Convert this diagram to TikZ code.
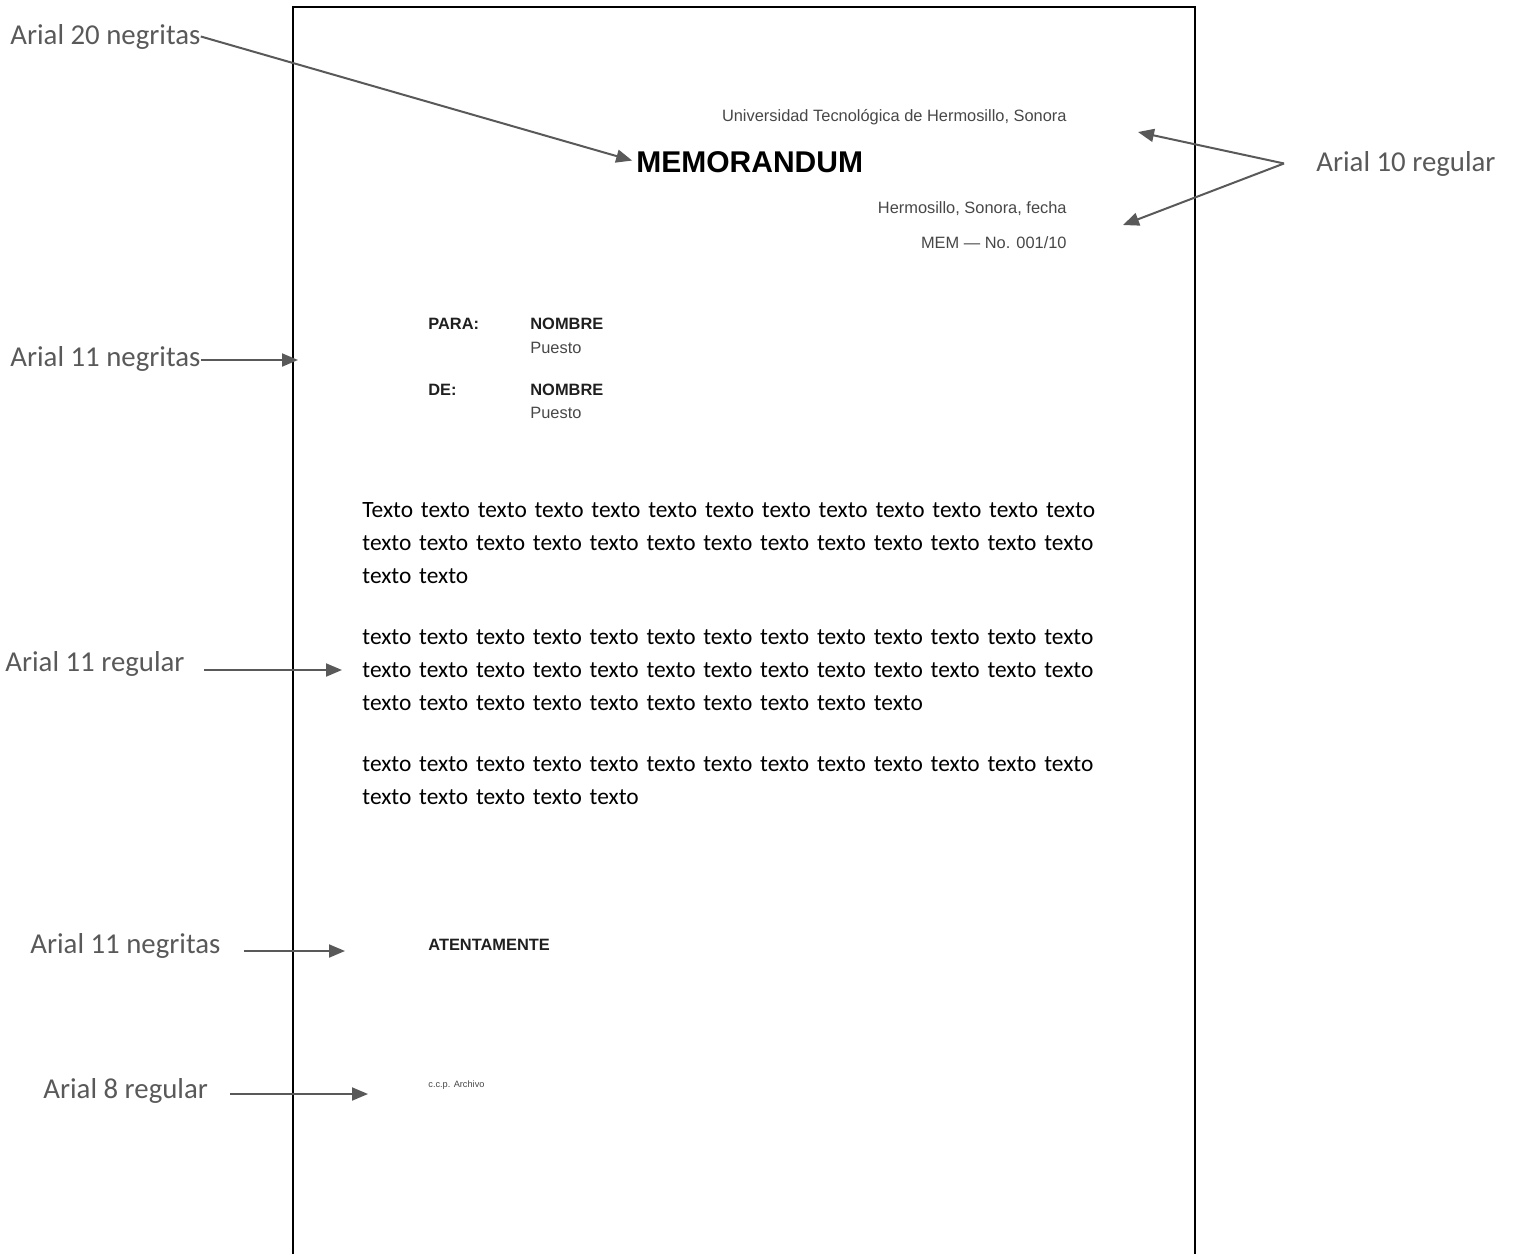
\documentclass[tikz,border=0pt]{standalone}
\usepackage{fontspec}
\setmainfont{Carlito}
\newfontfamily\arialfont[Ligatures=TeX]{Liberation Sans}
\usetikzlibrary{arrows.meta}
\definecolor{labelgray}{HTML}{595959}
\newcommand{\texto}{texto texto texto texto texto texto texto texto texto texto texto texto texto}

\begin{document}
\begin{tikzpicture}[x=0.5pt,y=-0.5pt]
		\tikzset{
			note/.style={text=labelgray,inner sep=0pt,font=\fontsize{14.4pt}{17pt}\selectfont},
			lettertext/.style={text=black!72,inner sep=0pt,font=\arialfont\fontsize{8.2pt}{10pt}\selectfont},
			letterbold/.style={text=black!88,inner sep=0pt,font=\arialfont\bfseries\fontsize{8.2pt}{10pt}\selectfont},
			bodytext/.style={text=black,inner sep=0pt,anchor=base west,text width=380pt,align=left,font=\fontsize{11.7pt}{16.5pt}\selectfont},
		}
		\tikzset{
			pointer/.style={color=labelgray,line width=1pt,-{Triangle[length=8pt,width=6.5pt]}},
		}
		\useasboundingbox (0,0) rectangle (1516,1254);
		
		\draw[line width=0.8pt] (293,1254) -- (293,7) -- (1195,7) -- (1195,1254);
		
		\node[lettertext,anchor=base east] (univ) at (1067,121) {Universidad Tecnológica de Hermosillo, Sonora};
		\node[inner sep=0pt,anchor=base west,font=\arialfont\bfseries\fontsize{15pt}{18pt}\selectfont] (memo) at (636,172) {MEMORANDUM};
		\node[lettertext,anchor=base east] (fecha) at (1067,213) {Hermosillo, Sonora, fecha};
		\node[lettertext,anchor=base east] (memno) at (1067,248) {MEM — No. 001/10};
		
		\node[letterbold,anchor=base west] (para) at (428,329) {PARA:};
		\node[letterbold,anchor=base west] (nombreA) at (530,329) {NOMBRE};
		\node[lettertext,anchor=base west] (puestoA) at (530,353) {Puesto};
		\node[letterbold,anchor=base west] (de) at (428,395) {DE:};
		\node[letterbold,anchor=base west] (nombreB) at (530,395) {NOMBRE};
		\node[lettertext,anchor=base west] (puestoB) at (530,418) {Puesto};
		
		\node[bodytext] (parA) at (362,517) {Texto texto texto texto texto texto texto texto texto texto texto texto texto\\ \texto\\ texto texto};
		\node[bodytext] (parB) at (362,644) {\texto\\ \texto\\ texto texto texto texto texto texto texto texto texto texto};
		\node[bodytext] (parC) at (362,771) {\texto\\ texto texto texto texto texto};
		
		\node[letterbold,anchor=base west] (atent) at (428,950) {ATENTAMENTE};
		\node[lettertext,anchor=base west,font=\arialfont\fontsize{4.6pt}{6pt}\selectfont] (ccp) at (428,1087) {c.c.p. Archivo};
		
		\node[note,anchor=base west] (labTwenty) at (10,44) {Arial 20 negritas};
		\node[note,anchor=base west] (labTen) at (1316,171) {Arial 10 regular};
		\node[note,anchor=base west] (labElevenB) at (10,366) {Arial 11 negritas};
		\node[note,anchor=base west] (labElevenR) at (5,671) {Arial 11 regular};
		\node[note,anchor=base west] (labElevenA) at (30,953) {Arial 11 negritas};
		\node[note,anchor=base west] (labEight) at (43,1098) {Arial 8 regular};
		
		\coordinate (tenJoin) at ([xshift=-16pt]labTen.west);
		\coordinate (tenUp) at (1138,132);
		\coordinate (tenDown) at (1123,225);
		\coordinate (elevenB) at (298,360);
		\coordinate (elevenR) at (342,670);
		\coordinate (elevenA) at (345,951);
		\coordinate (eight) at (368,1094);
		
		\draw[pointer,shorten >=2pt] (labTwenty.east) to (memo.west);
		\draw[pointer] (tenJoin) to (tenUp);
		\draw[pointer] (tenJoin) to (tenDown);
		\draw[pointer] (labElevenB.east |- elevenB) to (elevenB);
		\draw[pointer,shorten <=9.5pt] (labElevenR.east |- elevenR) to (elevenR);
		\draw[pointer,shorten <=11.5pt] (labElevenA.east |- elevenA) to (elevenA);
		\draw[pointer,shorten <=11pt] (labEight.east |- eight) to (eight);
	\end{tikzpicture}
\end{document}
